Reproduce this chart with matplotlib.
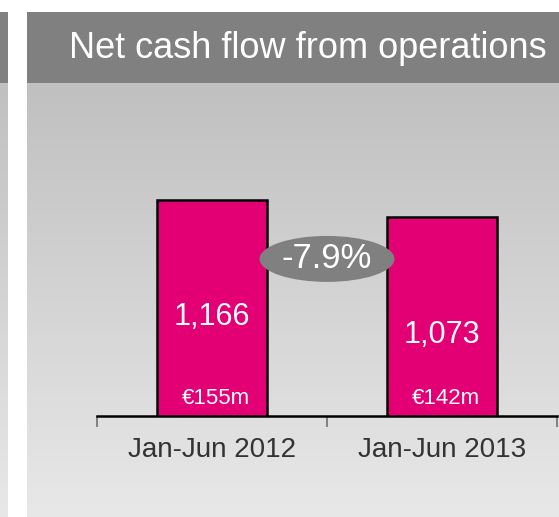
import numpy as np
import matplotlib.pyplot as plt
from matplotlib.patches import Ellipse, Rectangle

plt.rcParams['font.family'] = ['Liberation Sans', 'DejaVu Sans']

# chart data
title = 'Net cash flow from operations'
periods = ['Jan-Jun 2012', 'Jan-Jun 2013']
cash_flow = [1166, 1073]
sub_labels = ['€155m', '€142m']
change_label = '-7.9%'

MAGENTA = '#E20074'
HEADER = '#808080'

W, H = 559, 517
fig = plt.figure(figsize=(W / 100, H / 100), dpi=100)

# background panels (figure pixel coordinates -> fractions)
def fx(px):
    return px / W

def fy(py):
    return 1 - py / H

bg = fig.add_axes([0, 0, 1, 1])
bg.set_xlim(0, W)
bg.set_ylim(H, 0)
bg.axis('off')
grad = np.linspace(0, 1, 256).reshape(-1, 1)
cmap = plt.matplotlib.colors.LinearSegmentedColormap.from_list('g', ['#c0c0c0', '#e8e8e8'])
for x0, x1 in [(0, 8), (27, W)]:
    bg.imshow(grad, cmap=cmap, extent=[x0, x1, H, 83], aspect='auto', zorder=0)
    bg.add_patch(Rectangle((x0, 12), x1 - x0, 71, color=HEADER, lw=0, zorder=1))
bg.text(308, 48, title, color='white', fontsize=26, ha='center', va='center', zorder=2)

# main chart axes: baseline at y=416, x from 97 to 557
ax = fig.add_axes([fx(97), fy(416), fx(557) - fx(97), fy(100) - fy(416)])
ax.patch.set_alpha(0)
px_per_unit = 216 / cash_flow[0]
ax.set_ylim(0, (416 - 100) / px_per_unit)
ax.set_xlim(-0.5, 1.5)

x = np.arange(len(periods))
ax.bar(x, cash_flow, width=0.475, color=MAGENTA, edgecolor='black', linewidth=1.8, zorder=3)

label_frac = [0.46, 0.41]
for i, v in enumerate(cash_flow):
    ax.text(x[i], v * label_frac[i], f'{v:,}', color='white', fontsize=22,
            ha='center', va='center', zorder=4)
    ax.text(x[i] + 0.015, 95, sub_labels[i], color='white', fontsize=16,
            ha='center', va='center', zorder=4)

# change bubble between the bars
ey = 848
ax.add_patch(Ellipse((0.5, ey), 135 / 230, 46 / px_per_unit, color=HEADER, lw=0, zorder=5))
ax.text(0.5, ey, change_label, color='white', fontsize=25, ha='center', va='center', zorder=6)

for s in ['top', 'right', 'left']:
    ax.spines[s].set_visible(False)
ax.spines['bottom'].set_linewidth(1.8)
ax.set_yticks([])
ax.set_xticks([-0.5, 0.5, 1.5])
ax.set_xticklabels([])
ax.tick_params(axis='x', length=8, width=1.2, color='#707070', direction='out')
for i, p in enumerate(periods):
    ax.text(x[i], -34 / px_per_unit, p, color='#333333', fontsize=20, ha='center', va='center')

fig.savefig('out.png', dpi=100)
